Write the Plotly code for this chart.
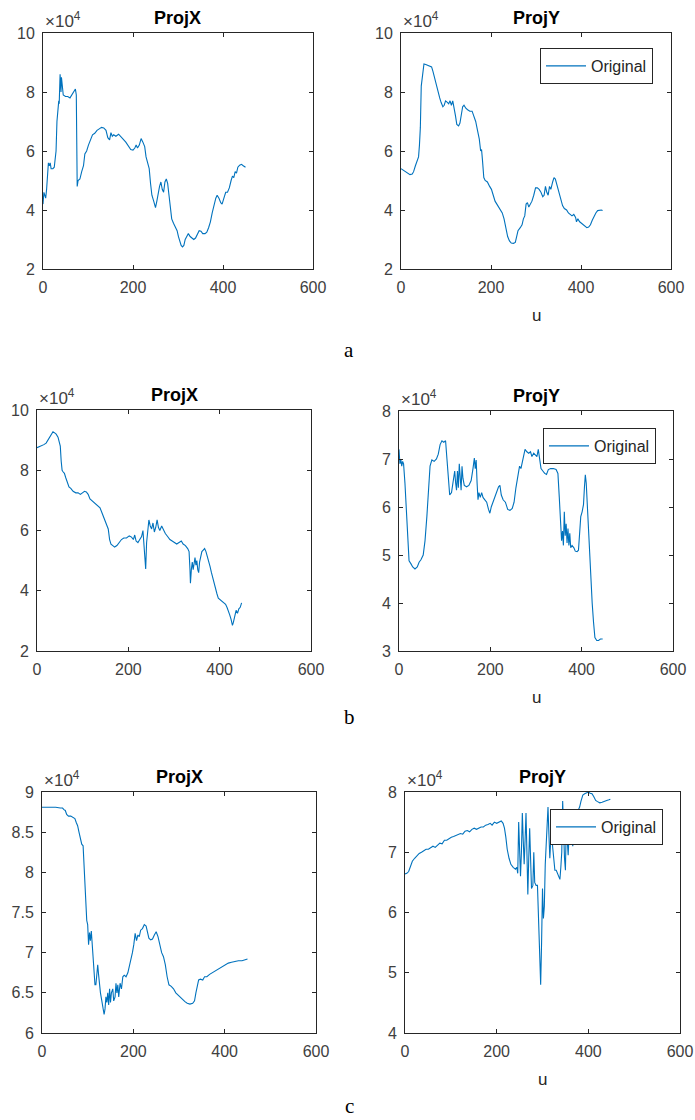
import plotly.graph_objects as go

# ---------------- data (values in units of 1e4) ----------------
a_x_u = [0,2,4,6,8,10,12,14,16,18,22,25,27,29,31,33,35,36,38,39,40,41,43,45,50,55,60,64,68,72,74,75,76,78,82,86,90,93,97,101,105,110,115,120,125,130,135,140,144,148,151,154,157,162,168,173,178,184,190,195,200,204,207,210,214,218,222,226,229,233,236,239,242,246,250,253,256,259,262,265,268,271,274,277,280,283,286,290,294,298,301,304,307,310,313,316,320,323,327,331,335,339,343,347,351,355,360,364,368,372,376,380,384,387,391,395,398,402,406,410,414,418,421,424,427,430,433,437,441,445,450]
a_x_v = [4.2,4.6,4.5,4.4,4.7,5.2,5.6,5.5,5.6,5.4,5.4,5.45,5.8,6.0,7.0,7.6,7.7,7.6,8.6,8.3,8.0,8.5,8.2,7.9,7.85,7.85,7.8,7.9,8.0,8.1,7.9,6.0,4.8,5.0,5.05,5.3,5.5,5.9,6.0,6.2,6.35,6.55,6.6,6.7,6.75,6.8,6.78,6.7,6.45,6.38,6.62,6.5,6.55,6.5,6.57,6.5,6.4,6.3,6.15,6.05,6.03,6.1,6.2,6.1,6.2,6.42,6.3,6.15,5.8,5.5,5.4,4.9,4.5,4.3,4.08,4.3,4.6,4.8,4.95,4.7,4.6,4.95,5.05,4.9,4.5,4.1,3.7,3.55,3.4,3.3,3.1,2.95,2.8,2.75,2.8,3.0,3.15,3.2,3.1,3.05,3.0,3.05,3.2,3.3,3.28,3.2,3.2,3.25,3.4,3.6,3.9,4.2,4.4,4.5,4.4,4.25,4.2,4.4,4.6,4.6,4.75,5.0,5.15,5.1,5.3,5.25,5.45,5.52,5.55,5.5,5.45]

a_y_u = [0,5,10,15,20,25,28,32,36,39,41,43,45,47,49,51,55,60,65,68,71,74,77,80,83,86,89,93,96,99,103,106,109,112,115,118,121,124,128,131,134,137,140,144,148,153,158,162,166,170,174,177,179,181,184,187,192,197,201,205,209,213,217,221,225,229,233,237,241,245,250,254,257,260,265,269,272,275,278,281,284,287,291,295,299,303,307,311,315,318,321,324,327,330,333,337,340,343,347,351,355,359,363,368,372,376,380,384,388,390,393,397,401,405,409,413,417,421,425,429,433,437,441,445,448]
a_y_v = [5.4,5.35,5.3,5.22,5.2,5.22,5.3,5.5,5.7,5.8,6.2,6.8,8.2,8.5,8.7,8.95,8.93,8.9,8.88,8.85,8.7,8.5,8.4,8.2,8.0,7.8,7.65,7.5,7.55,7.7,7.65,7.6,7.7,7.55,7.7,7.5,7.2,6.9,6.85,6.95,7.2,7.5,7.55,7.45,7.4,7.35,7.35,7.2,7.0,6.7,6.4,6.0,6.05,5.7,5.1,5.0,4.95,4.8,4.7,4.5,4.3,4.2,4.1,4.0,3.9,3.7,3.4,3.1,2.95,2.88,2.87,2.9,3.1,3.3,3.4,3.5,3.7,3.8,4.2,4.25,4.1,4.2,4.3,4.5,4.75,4.75,4.7,4.6,4.45,4.5,4.8,4.6,4.5,4.8,4.7,4.95,5.1,5.05,4.8,4.6,4.3,4.15,4.05,4.0,3.9,3.85,3.8,3.85,3.75,3.6,3.7,3.6,3.55,3.5,3.42,3.4,3.42,3.5,3.65,3.8,3.9,3.98,4.0,4.0,3.98]

b_x_u = [0,5,10,15,20,24,28,32,35,38,42,46,49,51,53,55,57,60,63,66,70,74,79,85,90,95,100,104,108,112,116,120,124,128,133,138,142,146,150,153,156,159,162,166,170,175,180,185,190,196,202,207,211,214,217,221,225,229,232,234,236,238,240,242,245,248,251,254,257,260,263,266,269,273,277,281,286,291,296,301,306,311,316,320,325,330,333,335,336,338,340,342,344,346,348,350,352,354,356,358,361,364,367,370,373,376,379,382,385,388,391,394,397,401,405,409,413,416,419,422,425,428,430,433,436,439,442,445,448]
b_x_v = [8.75,8.78,8.8,8.85,8.9,9.0,9.1,9.2,9.28,9.25,9.2,9.1,8.95,8.8,8.3,8.0,7.95,7.9,7.75,7.6,7.45,7.4,7.3,7.25,7.25,7.2,7.25,7.3,7.28,7.2,7.05,7.0,6.92,6.9,6.82,6.75,6.6,6.45,6.3,6.2,6.05,5.7,5.55,5.5,5.45,5.5,5.6,5.7,5.75,5.75,5.82,5.78,5.7,5.85,5.65,5.6,5.7,5.8,6.0,5.6,5.2,4.72,5.6,5.9,6.35,6.15,6.05,6.25,5.95,6.1,6.35,6.1,6.0,6.15,6.0,5.9,5.8,5.7,5.65,5.6,5.55,5.6,5.65,5.55,5.5,5.4,5.3,4.7,4.25,4.7,4.95,4.7,5.0,5.1,4.85,5.0,4.7,4.6,4.95,5.15,5.3,5.35,5.4,5.3,5.15,4.95,4.8,4.6,4.4,4.3,4.1,3.9,3.75,3.7,3.65,3.62,3.55,3.45,3.35,3.2,3.05,2.85,2.95,3.15,3.35,3.25,3.4,3.45,3.6]

b_y_u = [0,2,4,6,8,10,13,16,19,22,26,30,35,40,44,48,53,57,61,65,68,72,77,82,86,90,94,98,102,105,108,111,115,119,122,124,126,128,130,132,134,136,138,140,143,148,153,158,162,165,167,169,171,173,175,178,181,184,188,192,196,199,202,206,210,214,218,221,224,228,233,238,243,248,252,256,260,264,267,270,273,276,280,284,288,291,295,299,302,305,308,311,315,319,323,327,332,338,344,348,351,354,356,358,360,362,364,366,368,370,372,374,376,379,383,386,390,393,396,398,401,404,406,408,410,412,414,417,420,423,426,429,433,437,441,446]
b_y_v = [7.2,6.9,7.0,6.85,6.95,6.9,6.5,5.9,5.2,4.88,4.82,4.75,4.71,4.75,4.85,4.9,5.0,5.3,5.8,6.4,6.85,6.98,6.95,7.0,7.1,7.3,7.38,7.35,7.38,7.0,6.5,6.25,6.3,6.55,6.75,6.5,6.35,6.75,6.4,6.9,6.6,6.35,6.85,6.6,6.45,6.42,6.45,6.55,6.8,7.02,6.8,6.98,6.5,6.15,6.3,6.2,6.3,6.2,6.15,6.1,5.95,5.87,6.0,6.1,6.2,6.3,6.42,6.45,6.25,6.15,6.1,5.95,5.93,5.97,6.1,6.4,6.6,6.85,6.8,6.95,7.1,7.2,7.15,7.12,7.15,7.05,7.12,7.08,7.05,7.2,7.0,6.8,6.75,6.7,6.68,6.78,6.8,6.8,6.78,6.7,6.2,5.6,5.3,5.5,5.2,5.9,5.4,5.65,5.25,5.55,5.2,5.45,5.15,5.2,5.15,5.08,5.07,5.1,5.5,5.8,5.9,6.05,6.4,6.67,6.5,6.1,5.6,5.0,4.5,4.0,3.6,3.28,3.22,3.22,3.25,3.25]

c_x_u = [0,10,20,30,40,45,48,51,54,58,63,68,72,75,78,81,84,87,90,92,94,96,98,100,102,104,106,108,110,112,114,116,118,120,122,124,126,128,131,134,136,138,140,142,144,146,148,150,152,155,157,160,162,164,166,168,171,174,177,180,184,188,192,195,198,201,204,207,210,213,216,220,224,228,231,234,238,242,246,250,254,258,262,266,270,274,278,283,288,293,298,303,308,313,318,324,330,334,337,340,343,347,352,356,361,367,373,380,387,394,401,408,415,422,430,438,444,450]
c_x_v = [8.81,8.81,8.81,8.81,8.8,8.8,8.78,8.77,8.72,8.7,8.7,8.68,8.67,8.62,8.58,8.5,8.4,8.35,8.33,8.1,7.8,7.6,7.4,7.35,7.1,7.25,7.15,7.27,7.1,6.9,6.75,6.6,6.6,6.7,6.85,6.72,6.6,6.5,6.4,6.3,6.23,6.3,6.45,6.38,6.5,6.35,6.55,6.38,6.5,6.55,6.4,6.45,6.62,6.5,6.6,6.45,6.62,6.55,6.7,6.72,6.7,6.75,6.85,6.9,7.0,7.1,7.24,7.15,7.22,7.2,7.28,7.3,7.35,7.33,7.25,7.18,7.16,7.17,7.22,7.26,7.2,7.1,7.0,6.95,6.85,6.7,6.6,6.58,6.55,6.5,6.47,6.45,6.42,6.39,6.37,6.36,6.37,6.4,6.5,6.6,6.66,6.67,6.66,6.7,6.7,6.73,6.75,6.78,6.8,6.83,6.85,6.87,6.88,6.89,6.9,6.9,6.91,6.92]

c_y_u = [0,4,8,12,16,21,26,31,36,41,46,51,56,61,66,71,76,81,86,91,96,101,106,111,116,121,126,131,136,141,146,151,156,161,166,171,176,181,186,190,195,200,205,210,214,217,220,223,227,231,236,241,244,246,248,250,252,254,256,258,260,262,264,266,268,270,272,274,276,279,281,283,286,289,291,293,295,296,298,300,302,304,306,308,310,312,314,316,318,320,322,324,327,330,333,336,338,340,342,344,346,348,350,352,354,356,358,360,363,366,369,372,375,378,381,384,388,392,396,400,404,408,412,416,420,425,430,435,440,445,448]
c_y_v = [6.64,6.65,6.68,6.78,6.85,6.9,6.95,6.98,7.0,7.03,7.05,7.05,7.08,7.1,7.08,7.12,7.15,7.14,7.2,7.2,7.23,7.25,7.26,7.28,7.3,7.31,7.3,7.35,7.36,7.34,7.38,7.4,7.38,7.4,7.42,7.42,7.45,7.46,7.48,7.45,7.5,7.48,7.5,7.52,7.48,7.4,7.25,7.05,6.9,6.8,6.75,6.72,6.75,6.65,7.5,7.1,6.6,7.0,7.65,7.2,6.8,7.2,7.65,7.0,6.3,6.9,7.4,6.9,6.4,6.45,7.0,6.5,6.45,6.45,6.0,5.6,5.0,4.8,5.5,6.4,5.9,6.1,6.8,7.1,7.5,7.75,7.3,6.9,7.2,7.4,7.1,6.9,6.7,6.7,6.65,6.6,6.55,6.75,7.0,7.85,7.2,6.9,6.7,7.5,7.2,6.95,7.3,7.15,7.4,7.1,7.3,7.4,7.55,7.7,7.75,7.85,7.95,7.97,7.98,8.0,7.98,7.97,7.92,7.86,7.84,7.82,7.83,7.85,7.86,7.87,7.88]

x_ticks = [0, 200, 400, 600]
y_ticks_a = [2, 4, 6, 8, 10]
y_ticks_b_right = [3, 4, 5, 6, 7, 8]
y_ticks_c_left = [6, 6.5, 7, 7.5, 8, 8.5, 9]
y_ticks_c_right = [4, 5, 6, 7, 8]
titles = ["ProjX", "ProjY"]
row_labels = ["a", "b", "c"]
legend_name = "Original"
exp_label = "×10<sup>4</sup>"

# ---------------- layout ----------------
W, H = 695, 1120
LINE = "#0072BD"
AX = "#262626"
TXT = "#404040"
FONT = "Liberation Sans, Arial, sans-serif"

# pixel rects: (left, right, top, bottom)
panels = [
    dict(u=a_x_u, v=a_x_v, rect=(43, 313, 33, 269), yt=y_ticks_a, title=titles[0], leg=None),
    dict(u=a_y_u, v=a_y_v, rect=(401, 671, 33, 269), yt=y_ticks_a, title=titles[1], leg=("legend", 653, 48)),
    dict(u=b_x_u, v=b_x_v, rect=(37, 311, 410, 651), yt=y_ticks_a, title=titles[0], leg=None),
    dict(u=b_y_u, v=b_y_v, rect=(399, 673, 411, 651), yt=y_ticks_b_right, title=titles[1], leg=("legend2", 656, 428)),
    dict(u=c_x_u, v=c_x_v, rect=(42, 316, 792, 1033), yt=y_ticks_c_left, title=titles[0], leg=None),
    dict(u=c_y_u, v=c_y_v, rect=(405, 680, 792, 1033), yt=y_ticks_c_right, title=titles[1], leg=("legend3", 663, 809)),
]

fig = go.Figure()
annotations = []
layout = dict(
    width=W, height=H, margin=dict(l=0, r=0, t=0, b=0, pad=0, autoexpand=False),
    paper_bgcolor="white", plot_bgcolor="white",
    font=dict(family=FONT, size=16, color=TXT),
)

def fmt(t):
    return ("%g" % t)

for i, p in enumerate(panels):
    k = i + 1
    l, r, t, b = p["rect"]
    xd = [l / W, r / W]
    yd = [1 - b / H, 1 - t / H]
    xname = "xaxis" if k == 1 else f"xaxis{k}"
    yname = "yaxis" if k == 1 else f"yaxis{k}"
    xref = "x" if k == 1 else f"x{k}"
    yref = "y" if k == 1 else f"y{k}"
    yt = p["yt"]
    common = dict(showline=True, mirror="ticks", linecolor=AX, linewidth=1,
                  ticks="inside", ticklen=4, tickcolor=AX, tickwidth=1,
                  showgrid=False, zeroline=False, automargin=False,
                  tickfont=dict(family=FONT, size=16, color=TXT))
    layout[xname] = dict(domain=xd, anchor=yref, range=[0, 600], tickvals=x_ticks,
                         ticktext=[fmt(v) for v in x_ticks], ticklabelstandoff=4, **common)
    layout[yname] = dict(domain=yd, anchor=xref, range=[yt[0], yt[-1]], tickvals=yt,
                         ticktext=[fmt(v) for v in yt], ticklabelstandoff=4, **common)
    trace = go.Scatter(x=p["u"], y=p["v"], mode="lines", xaxis=xref, yaxis=yref,
                       line=dict(color=LINE, width=1.1), name=legend_name,
                       showlegend=p["leg"] is not None)
    if p["leg"] is not None:
        lname, lr, lt = p["leg"]
        trace.legend = lname
        layout[lname] = dict(x=lr / W, xanchor="right", y=1 - lt / H, yanchor="top",
                             bgcolor="white", bordercolor=AX, borderwidth=1,
                             font=dict(family=FONT, size=16, color=AX),
                             itemwidth=40, tracegroupgap=0)
    fig.add_trace(trace)
    # title
    annotations.append(dict(text="<b>%s</b>" % p["title"], xref="paper", yref="paper",
                            x=(xd[0] + xd[1]) / 2, y=yd[1], xanchor="center", yanchor="bottom",
                            yshift=3, showarrow=False,
                            font=dict(family=FONT, size=18, color="#000000")))
    # exponent label
    annotations.append(dict(text=exp_label, xref="paper", yref="paper",
                            x=xd[0], y=yd[1], xanchor="left", yanchor="bottom",
                            xshift=0, yshift=0, showarrow=False,
                            font=dict(family=FONT, size=17, color=TXT)))
    # u label for right panels
    if k % 2 == 0:
        annotations.append(dict(text="u", xref="paper", yref="paper",
                                x=(xd[0] + xd[1]) / 2, y=yd[0], xanchor="center", yanchor="top",
                                yshift=-35, showarrow=False,
                                font=dict(family=FONT, size=17, color=AX)))

for lab, py in zip(row_labels, [350, 717, 1106]):
    annotations.append(dict(text=lab, xref="paper", yref="paper", x=349 / W, y=1 - py / H,
                            xanchor="center", yanchor="middle", showarrow=False,
                            font=dict(family="Liberation Serif, Times New Roman, serif",
                                      size=21, color="#000000")))

layout["annotations"] = annotations
fig.update_layout(**layout)
fig.write_html("out.html", config={"displayModeBar": False},
               post_script="document.body.style.margin='0px';document.body.style.overflow='hidden';")
